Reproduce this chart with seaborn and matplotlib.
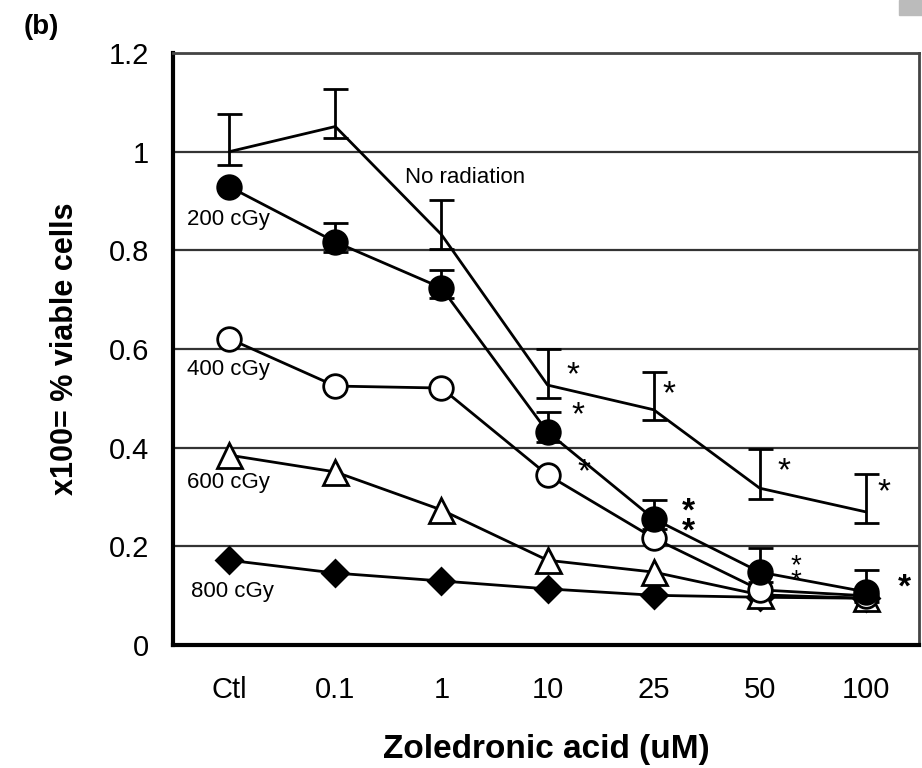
import numpy as np
import pandas as pd
import matplotlib
matplotlib.use("Agg")
import matplotlib.pyplot as plt
import seaborn as sns

# categories on the x axis
doses = ["Ctl", "0.1", "1", "10", "25", "50", "100"]

# fraction of viable cells per radiation dose
no_rad = [1.00, 1.051, 0.832, 0.527, 0.477, 0.318, 0.270]
no_rad_err_hi = [0.077, 0.077, 0.071, 0.073, 0.077, 0.080, 0.077]
no_rad_err_lo = [0.026, 0.023, 0.029, 0.026, 0.021, 0.022, 0.023]

gy200 = [0.929, 0.817, 0.724, 0.432, 0.256, 0.148, 0.108]
gy200_err_hi = [0.0, 0.039, 0.037, 0.041, 0.038, 0.049, 0.044]
gy200_err_lo = [0.0, 0.02, 0.02, 0.02, 0.02, 0.02, 0.02]

gy400 = [0.621, 0.525, 0.521, 0.345, 0.217, 0.112, 0.100]
gy600 = [0.385, 0.351, 0.274, 0.172, 0.148, 0.102, 0.095]
gy800 = [0.172, 0.146, 0.130, 0.114, 0.101, 0.097, 0.095]

series_labels = ["No radiation", "200 cGy", "400 cGy", "600 cGy", "800 cGy"]

x = np.arange(len(doses))
frames = []
for name, vals in zip(series_labels, [no_rad, gy200, gy400, gy600, gy800]):
    frames.append(pd.DataFrame({"pos": x, "dose": doses, "viable": vals, "series": name}))
df = pd.concat(frames, ignore_index=True)

sns.set_style("white")
plt.rcParams["font.family"] = ["Liberation Sans", "DejaVu Sans"]
plt.rcParams["text.color"] = "black"
plt.rcParams["axes.labelcolor"] = "black"
plt.rcParams["xtick.color"] = "black"
plt.rcParams["ytick.color"] = "black"

fig = plt.figure(figsize=(9.22, 7.68), dpi=100)
ax = fig.add_axes([0.1876, 0.160, 0.8091, 0.771])

marker_styles = {
    "No radiation": (None, "black", 0),
    "200 cGy": ("o", "black", 17),
    "400 cGy": ("o", "white", 17),
    "600 cGy": ("^", "white", 18),
    "800 cGy": ("D", "black", 13),
}

# gridlines
for g in [0.2, 0.4, 0.6, 0.8, 1.0, 1.2]:
    ax.axhline(g, color="#333333", lw=1.6, zorder=0)

# error bars
ax.errorbar(x, no_rad, yerr=[no_rad_err_lo, no_rad_err_hi], fmt="none",
            ecolor="black", elinewidth=2, capsize=9, capthick=2, zorder=2)
ax.errorbar(x[1:], gy200[1:], yerr=[gy200_err_lo[1:], gy200_err_hi[1:]], fmt="none",
            ecolor="black", elinewidth=2, capsize=9, capthick=2, zorder=2)

for name in ["800 cGy", "600 cGy", "400 cGy", "200 cGy", "No radiation"]:
    sub = df[df["series"] == name]
    mk, face, size = marker_styles[name]
    sns.lineplot(data=sub, x="pos", y="viable", ax=ax, color="black", lw=2,
                 marker=mk, markersize=size, markerfacecolor=face,
                 markeredgecolor="black", markeredgewidth=2, zorder=3,
                 legend=False)

# series labels
ax.text(2.22, 0.947, "No radiation", fontsize=16, ha="center", va="center")
ax.text(-0.01, 0.862, "200 cGy", fontsize=16, ha="center", va="center")
ax.text(-0.01, 0.558, "400 cGy", fontsize=16, ha="center", va="center")
ax.text(-0.01, 0.329, "600 cGy", fontsize=16, ha="center", va="center")
ax.text(0.03, 0.108, "800 cGy", fontsize=16, ha="center", va="center")

# significance marks
stars = [(3.24, 0.545, "*"), (3.29, 0.464, "*"), (3.34, 0.350, "*"),
         (4.14, 0.508, "*"), (5.23, 0.352, "*"), (6.17, 0.309, "*")]
for sx, sy, s in stars:
    ax.text(sx, sy, s, fontsize=24, ha="center", va="center")
ax.text(4.33, 0.25, "*\n*", fontsize=24, fontweight="bold", ha="center",
        va="center", linespacing=0.55)
ax.text(5.34, 0.145, "*\n*", fontsize=20, ha="center", va="center", linespacing=0.45)
ax.text(6.36, 0.115, "*", fontsize=24, fontweight="bold", ha="center", va="center")

ax.set_xlim(-0.53, 6.5)
ax.set_ylim(0, 1.2)
ax.set_yticks([0, 0.2, 0.4, 0.6, 0.8, 1.0, 1.2])
ax.set_yticklabels(["0", "0.2", "0.4", "0.6", "0.8", "1", "1.2"], fontsize=21)
ax.set_xticks(x)
ax.set_xticklabels(doses, fontsize=21)
ax.set_xticks(np.arange(-0.5, 6.6, 1), minor=True)
ax.tick_params(axis="x", which="major", length=0, pad=22)
ax.tick_params(axis="x", which="minor", length=8, width=3, direction="out", color="black")
ax.tick_params(axis="y", which="major", length=8, width=3, direction="out", color="black", pad=9)

ax.set_xlabel("Zoledronic acid (uM)", fontsize=24, fontweight="bold")
ax.set_ylabel("x100= % viable cells", fontsize=22, fontweight="bold")
ax.xaxis.set_label_coords(0.5, -0.150)
ax.yaxis.set_label_coords(-0.124, 0.5)

for side in ["left", "bottom"]:
    ax.spines[side].set_linewidth(3)
    ax.spines[side].set_color("black")
for side in ["top", "right"]:
    ax.spines[side].set_linewidth(2)
    ax.spines[side].set_color("#444444")

fig.text(0.026, 0.982, "(b)", fontsize=20, fontweight="bold", ha="left", va="top")
fig.patches.append(plt.Rectangle((0.975, 0.98), 0.03, 0.02, transform=fig.transFigure,
                                 color="#bbbbbb", zorder=0))

fig.savefig("out.png", dpi=100)
